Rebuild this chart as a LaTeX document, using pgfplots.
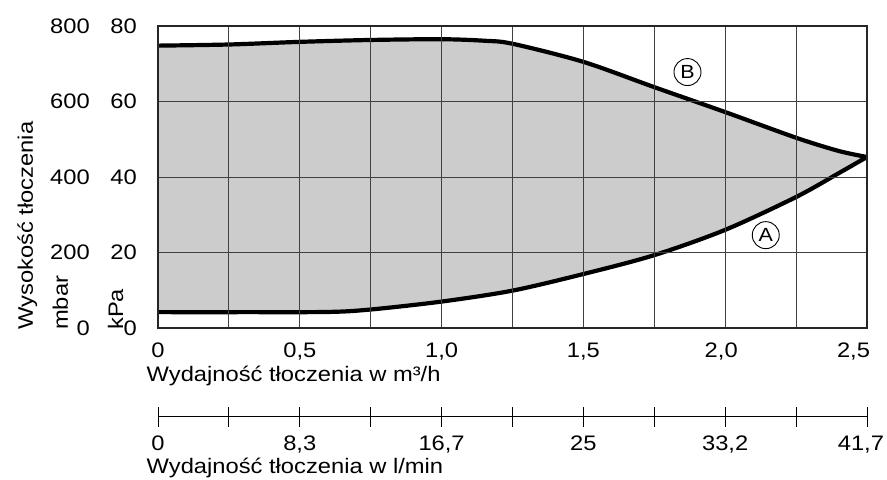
\documentclass[border=0pt]{standalone}
\usepackage{fontspec}
\setmainfont{Liberation Sans}[FakeStretch=1.13]
\usepackage{pgfplots}
\pgfplotsset{compat=1.18}
\usepgfplotslibrary{fillbetween}
\begin{document}
\fontsize{21bp}{25bp}\selectfont
\begin{tikzpicture}
% main chart
\begin{axis}[
  name=main, at={(0,0)}, anchor=south west,
  scale only axis, width=709bp, height=302bp,
  xmin=0, xmax=2.5, ymin=0, ymax=80,
  xtick={0,0.5,1,1.5,2,2.5},
  xticklabels={0,{0,5},{1,0},{1,5},{\makebox[0pt]{\kern-8bp 2,0}},{\makebox[0pt][r]{2,5\kern-3bp}}},
  minor xtick={0.25,0.75,1.25,1.75,2.25},
  ytick={0,20,40,60,80},
  yticklabels={{0\llap{0\hspace{47bp}}},{20\llap{200\hspace{47bp}}},{40\llap{400\hspace{47bp}}},{60\llap{600\hspace{47bp}}},{80\llap{800\hspace{47bp}}}},
  grid=both,
  major grid style={black!75, line width=1bp},
  minor grid style={black!75, line width=1bp},
  major tick length=0pt, minor tick length=0pt,
  axis line style={black!85, line width=1.3bp},
  axis on top,
  xticklabel style={yshift=-8bp},
  yticklabel style={anchor=east, xshift=-14bp},
  clip=false,
]
\addplot[name path=B, black, line width=4.2bp, smooth, tension=0.5] coordinates {
 (0,74.8) (0.25,75.1) (0.5,75.8) (0.75,76.3) (1.0,76.5) (1.15,76.1) (1.25,75.3)
 (1.5,70.5) (1.75,63.8) (2.0,57.2) (2.25,50.4) (2.4,46.9) (2.5,45.3)};
\addplot[name path=A, black, line width=4.2bp, smooth, tension=0.5] coordinates {
 (0,4.2) (0.3,4.2) (0.6,4.25) (0.75,4.9) (1.0,7.0) (1.25,9.9) (1.5,14.3)
 (1.75,19.3) (2.0,26.0) (2.25,34.7) (2.4,41.0) (2.5,45.3)};
\addplot[fill=black!20, draw=none] fill between[of=A and B];
\node[circle, draw, line width=0.9bp, minimum size=27bp, inner sep=0pt, font=\fontsize{19bp}{22bp}\selectfont]
  at (axis cs:1.867,67.8) {B};
\node[circle, draw, line width=0.9bp, minimum size=27bp, inner sep=0pt, font=\fontsize{19bp}{22bp}\selectfont]
  at (axis cs:2.143,24.6) {A};
\end{axis}
% l/min scale
\begin{axis}[
  at={(0,-88.5bp)}, anchor=south west,
  scale only axis, width=709bp, height=10bp,
  xmin=0, xmax=41.667, ymin=0, ymax=1,
  axis y line=none, axis x line=bottom,
  axis line style={-, black, line width=1bp},
  every outer x axis line/.append style={-},
  xtick={0,4.1667,8.3333,12.5,16.6667,20.8333,25,29.1667,33.3333,37.5,41.667},
  xticklabels={0,,{8,3},,{16,7},,25,,{33,2},,{\makebox[0pt][r]{41,7\kern-17bp}}},
  tick align=center, major tick length=20bp,
  tick style={black, line width=1bp},
  xticklabel style={yshift=-2bp},
]
\addplot[draw=none] coordinates {(0,0)};
\end{axis}
\node[anchor=base west, inner sep=0pt] at (-11.5bp,-53.7bp) {Wydajność tłoczenia w m³/h};
\node[anchor=base west, inner sep=0pt] at (-11.5bp,-145bp) {Wydajność tłoczenia w l/min};
\node[rotate=90, anchor=base west, inner sep=0pt] at (-125bp,-2bp) {Wysokość tłoczenia};
\node[rotate=90, anchor=base west, inner sep=0pt] at (-90bp,-2bp) {mbar};
\node[rotate=90, anchor=base west, inner sep=0pt] at (-35bp,-2bp) {kPa};
\pgfresetboundingbox
\path (-158bp,-152bp) rectangle (729bp,328bp);
\end{tikzpicture}
\end{document}
